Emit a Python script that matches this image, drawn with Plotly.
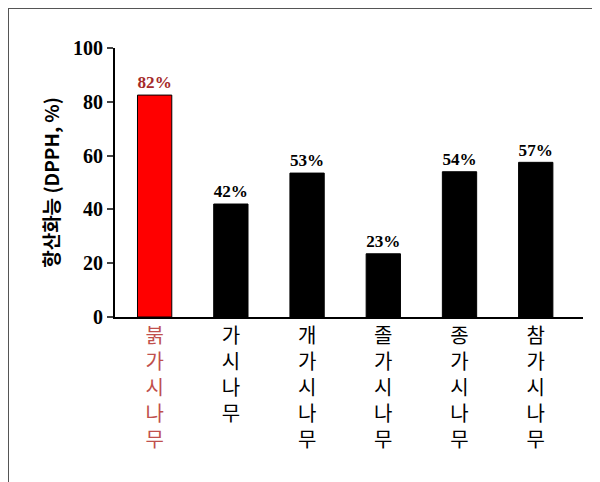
import plotly.graph_objects as go

names = ["붉가시나무", "가시나무", "개가시나무", "졸가시나무", "종가시나무", "참가시나무"]
values = [82.5, 42, 53.5, 23.5, 54, 57.5]
labels = ["82%", "42%", "53%", "23%", "54%", "57%"]
colors = ["#ff0000", "black", "black", "black", "black", "black"]
label_colors = ["#a52a2a", "black", "black", "black", "black", "black"]

ticktext = ["<br>".join(n) for n in names]
ticktext[0] = "<span style='color:#c0504d'>" + ticktext[0].replace("<br>", "</span><br><span style='color:#c0504d'>") + "</span>"

fig = go.Figure(go.Bar(
    x=list(range(len(names))), y=values, width=0.45,
    marker=dict(color=colors, line=dict(color="black", width=1)),
    text=labels, textposition="outside", cliponaxis=False,
    textfont=dict(family="Liberation Serif", size=19, color=label_colors, weight="bold"),
))

fig.update_layout(
    width=600, height=482, plot_bgcolor="white", paper_bgcolor="white",
    margin=dict(l=107, r=25, t=40, b=173, autoexpand=False), showlegend=False,
    font=dict(family="Noto Sans CJK KR", color="black"),
    shapes=[dict(type="rect", xref="paper", yref="paper", x0=-107/468, y0=-173/269,
                 x1=1+25/468, y1=1+40/269, line=dict(color="#555555", width=2))],
)
fig.update_xaxes(
    range=[-0.52, 5.62], automargin=False,
    tickvals=list(range(len(names))), ticktext=ticktext, ticks="",
    showline=True, linecolor="black", linewidth=2, showgrid=False,
    tickfont=dict(size=20, family="Noto Sans CJK KR"),
)
fig.update_yaxes(
    range=[0, 100], dtick=20, automargin=False,
    ticks="outside", ticklen=6, tickwidth=2, showline=True, linecolor="black", linewidth=2,
    showgrid=False, zeroline=False,
    tickfont=dict(size=20, family="Liberation Serif", weight="bold"),
    title=dict(text="<b>항산화능 (DPPH, %)</b>", font=dict(size=19), standoff=8),
)

fig.write_html("out.html")
